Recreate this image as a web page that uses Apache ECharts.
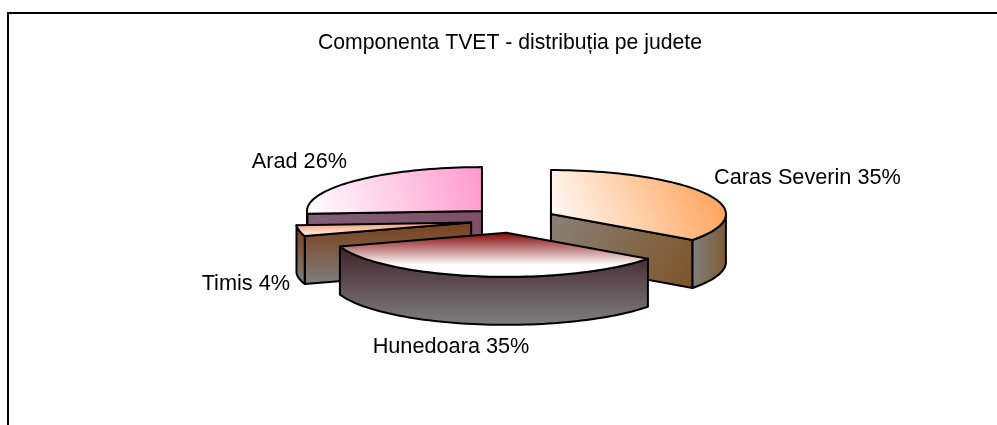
<!DOCTYPE html>
<html><head><meta charset="utf-8">
<style>html,body{margin:0;padding:0;background:#fff}#c{width:997px;height:425px}</style>
<script src="https://cdn.jsdelivr.net/npm/echarts@6/dist/echarts.min.js"></script>
</head><body><div id="c"></div>
<script>
const categories = ['Caras Severin', 'Hunedoara', 'Timis', 'Arad'];
const values = [35, 35, 4, 26];
const titleText = 'Componenta TVET - distribuția pe judete';

const total = values.reduce((a, b) => a + b, 0);
const FONT = '"Liberation Sans", Arial, sans-serif';
const pie = {cx: 513, cy: 220, rx: 175, ry: 44, ex: 42.6, ey: 13, depth: 48};
const labelPos = [
  {x: 714, y: 178, align: 'left'},
  {x: 451, y: 347, align: 'center'},
  {x: 290, y: 284, align: 'right'},
  {x: 347, y: 162, align: 'right'}
];
const G = (x0, y0, x1, y1, a, b) => ({c: [x0, y0, x1, y1], a, b});
const styles = [
  {top: G(0, 1, 1, 0, '#ffffff', '#ff9c4d'), cut: G(0, 0, 1, 1, '#8a8078', '#7d5528'), outer: G(0, 0, 1, 0, '#808080', '#7f5a30')},
  {top: G(0, 0.72, 0, 0, '#ffffff', '#800000'), cut: G(0, 0, 0, 1, '#40202a', '#7f7f7f'), outer: G(0, 0, 0, 1, '#40202a', '#7f7f7f')},
  {top: G(0, 1, 0, 0, '#ffffff', '#ff8c60'), cut: G(0, 0, 0, 1, '#7a3f18', '#7f7f7f'), outer: G(0, 0, 0, 1, '#7a3f18', '#7f7f7f')},
  {top: G(0, 1, 1, 0, '#ffffff', '#ff99cc'), cut: G(0, 0, 1, 0, '#806078', '#7f4f68'), outer: G(0, 0, 1, 0, '#806078', '#7f4f68')}
];
const grad = g => new echarts.graphic.LinearGradient(g.c[0], g.c[1], g.c[2], g.c[3], [{offset: 0, color: g.a}, {offset: 1, color: g.b}]);
let acc = 0;
const spans = values.map(v => { const s = acc; acc += v; return [s / total * 2 * Math.PI, acc / total * 2 * Math.PI]; });

function renderItem(params, api) {
  const i = api.value(0);
  const [a0, a1] = spans[i];
  const mid = (a0 + a1) / 2;
  const ax = pie.cx + Math.sin(mid) * pie.ex;
  const ay = pie.cy - Math.cos(mid) * pie.ey;
  const pt = a => [ax + Math.sin(a) * pie.rx, ay - Math.cos(a) * pie.ry];
  const n = Math.max(4, Math.round((a1 - a0) * 30));
  const angs = [], arc = [];
  for (let k = 0; k <= n; k++) { const a = a0 + (a1 - a0) * k / n; angs.push(a); arc.push(pt(a)); }
  const st = styles[i];
  const z = Math.round(ay * 10);
  const drop = p => [p[0], p[1] + pie.depth];
  const poly = (points, fill, dz) => ({
    type: 'polygon', z2: z + dz, shape: {points},
    style: {fill, stroke: '#000', lineWidth: 2, lineJoin: 'round'}
  });
  const kids = [];
  const apex = [ax, ay];
  if (Math.sin(a0) < -1e-6) kids.push(poly([apex, arc[0], drop(arc[0]), drop(apex)], grad(st.cut), 0));
  if (Math.sin(a1) > 1e-6) kids.push(poly([apex, arc[n], drop(arc[n]), drop(apex)], grad(st.cut), 1));
  const wall = arc.filter((p, k) => angs[k] >= Math.PI / 2 - 1e-6 && angs[k] <= 1.5 * Math.PI + 1e-6);
  if (wall.length > 1) kids.push(poly(wall.concat(wall.slice().reverse().map(drop)), grad(st.outer), 2));
  kids.push(poly([apex].concat(arc), grad(st.top), 3));
  const lp = labelPos[i];
  kids.push({
    type: 'text', z2: 5000, x: lp.x, y: lp.y,
    style: {text: categories[i] + ' ' + values[i] + '%', font: '21.7px ' + FONT, fill: '#000', align: lp.align, verticalAlign: 'middle'}
  });
  return {type: 'group', children: kids};
}

const chart = echarts.init(document.getElementById('c'), null, {renderer: 'canvas'});
chart.setOption({
  animation: false,
  backgroundColor: '#fff',
  title: {text: titleText, left: 505, top: 28, textAlign: 'center',
    textStyle: {fontFamily: FONT, fontSize: 21.2, fontWeight: 'normal', color: '#000'}},
  graphic: [
    {type: 'polyline', shape: {points: [[8, 426], [8, 13], [998, 13]]}, style: {stroke: '#000', lineWidth: 2, fill: null}}
  ],
  series: [{
    type: 'custom', coordinateSystem: 'none', renderItem,
    data: values.map((v, i) => [i, v, categories[i]])
  }]
});
</script></body></html>
